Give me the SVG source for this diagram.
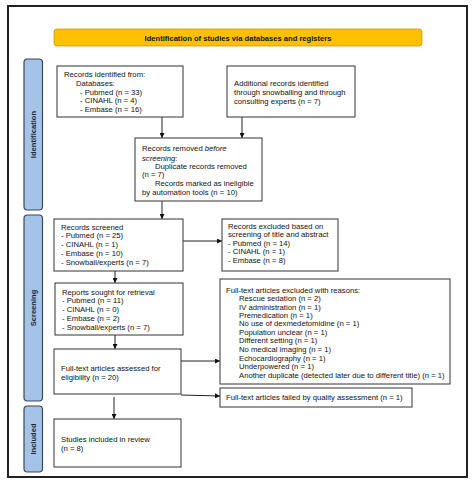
<svg xmlns="http://www.w3.org/2000/svg" width="474" height="484" viewBox="0 0 474 484">
<style>
text{font-family:"Liberation Sans",Arial,sans-serif;font-size:7.7px;fill:#111}
.box{fill:#fff;stroke:#333;stroke-width:1}
.side{fill:#a5c3e7;stroke:#3b4656;stroke-width:1.2}
.sl{font-weight:bold;font-size:7.6px;fill:#1f2a3c;text-anchor:middle}
.con{stroke:#222;stroke-width:1;fill:none;marker-end:url(#ah)}
</style>
<defs>
<marker id="ah" viewBox="0 0 10 10" refX="10" refY="5" markerWidth="5" markerHeight="5" orient="auto" markerUnits="userSpaceOnUse">
<path d="M0,0L10,5L0,10z" fill="#111"/>
</marker>
</defs>
<rect x="0" y="0" width="474" height="484" fill="#fff"/>
<rect x="8" y="6" width="459" height="471" fill="#fff" stroke="#222" stroke-width="2"/>
<g id="banner">
<rect x="54" y="29" width="368" height="17" rx="3" fill="#ffc000" stroke="#c99a00" stroke-width="0.8"/>
<text x="238" y="40.5" text-anchor="middle" style="font-weight:bold;font-size:7.6px">Identification of studies via databases and registers</text>
</g>
<g id="side-identification">
<rect class="side" x="24" y="59" width="18.5" height="151" rx="3.5"/>
<text class="sl" transform="translate(36,134.5) rotate(-90)">Identification</text>
</g>
<g id="side-screening">
<rect class="side" x="24" y="215" width="18.5" height="186" rx="3.5"/>
<text class="sl" transform="translate(36,308) rotate(-90)">Screening</text>
</g>
<g id="side-included">
<rect class="side" x="24" y="406" width="18.5" height="66" rx="3.5"/>
<text class="sl" transform="translate(36,439) rotate(-90)">Included</text>
</g>
<g id="connectors">
<line class="con" x1="162" y1="117" x2="162" y2="138"/>
<line class="con" x1="242" y1="117" x2="242" y2="138"/>
<line class="con" x1="162" y1="201" x2="162" y2="219"/>
<line class="con" x1="183" y1="241" x2="222" y2="241"/>
<line class="con" x1="115" y1="271" x2="115" y2="283"/>
<line class="con" x1="115" y1="335" x2="115" y2="349"/>
<line class="con" x1="181" y1="361" x2="220" y2="361"/>
<line class="con" x1="181" y1="395" x2="220" y2="396"/>
<line class="con" x1="114" y1="397" x2="114" y2="419"/>
</g>
<g id="records-identified">
<rect class="box" x="57" y="66" width="126" height="51"/>
<text x="64" y="77">Records identified from:</text>
<text x="76" y="86">Databases:</text>
<text x="80" y="94.5">- Pubmed (n = 33)</text>
<text x="80" y="103">- CINAHL (n = 4)</text>
<text x="80" y="111.5">- Embase (n = 16)</text>
</g>
<g id="additional-records">
<rect class="box" x="227" y="66" width="128" height="51"/>
<text x="234" y="86">Additional records identified</text>
<text x="234" y="95">through snowballing and through</text>
<text x="234" y="103.5">consulting experts (n = 7)</text>
</g>
<g id="records-removed">
<rect class="box" x="135" y="138" width="127" height="63"/>
<text x="142" y="151">Records removed <tspan font-style="italic">before</tspan></text>
<text x="142" y="160.5" font-style="italic">screening<tspan font-style="normal">:</tspan></text>
<text x="155" y="169">Duplicate records removed</text>
<text x="142" y="177">(n = 7)</text>
<text x="155" y="185.5">Records marked as ineligible</text>
<text x="142" y="194.5">by automation tools (n = 10)</text>
</g>
<g id="records-screened">
<rect class="box" x="54" y="219" width="129" height="52"/>
<text x="61" y="229.5">Records screened</text>
<text x="61" y="238">- Pubmed (n = 25)</text>
<text x="61" y="247">- CINAHL (n = 1)</text>
<text x="61" y="255.5">- Embase (n = 10)</text>
<text x="61" y="264.5">- Snowball/experts (n = 7)</text>
</g>
<g id="records-excluded">
<rect class="box" x="222" y="219" width="116" height="52"/>
<text x="228" y="228.5">Records excluded based on</text>
<text x="228" y="237">screening of title and abstract</text>
<text x="228" y="245.5">- Pubmed (n = 14)</text>
<text x="228" y="254">- CINAHL (n = 1)</text>
<text x="228" y="263">- Embase (n = 8)</text>
</g>
<g id="reports-sought">
<rect class="box" x="55" y="283" width="128" height="52"/>
<text x="62" y="294.5">Reports sought for retrieval</text>
<text x="62" y="303">- Pubmed (n = 11)</text>
<text x="62" y="312">- CINAHL (n = 0)</text>
<text x="62" y="320.5">- Embase (n = 2)</text>
<text x="62" y="329.5">- Snowball/experts (n = 7)</text>
</g>
<g id="fulltext-excluded">
<rect class="box" x="220" y="279" width="230" height="105"/>
<text x="226" y="292.8">Full-text articles excluded with reasons:</text>
<text x="239" y="301.1">Rescue sedation (n = 2)</text>
<text x="239" y="309.5">IV administration (n = 1)</text>
<text x="239" y="317.8">Premedication (n = 1)</text>
<text x="239" y="326.1">No use of dexmedetomidine (n = 1)</text>
<text x="239" y="334.5">Population unclear (n = 1)</text>
<text x="239" y="342.8">Different setting (n = 1)</text>
<text x="239" y="351.5">No medical imaging (n = 1)</text>
<text x="239" y="360.5">Echocardiography (n = 1)</text>
<text x="239" y="369">Underpowered (n = 1)</text>
<text x="239" y="377.5">Another duplicate (detected later due to different title) (n = 1)</text>
</g>
<g id="fulltext-assessed">
<rect class="box" x="54" y="349" width="127" height="45"/>
<text x="61" y="370.5">Full-text articles assessed for</text>
<text x="61" y="380">eligibility (n = 20)</text>
</g>
<g id="fulltext-failed">
<rect class="box" x="220" y="388" width="192" height="19"/>
<text x="226" y="400">Full-text articles failed by quality assessment (n = 1)</text>
</g>
<g id="studies-included">
<rect class="box" x="54" y="419" width="127" height="48"/>
<text x="61" y="442">Studies included in review</text>
<text x="61" y="451">(n = 8)</text>
</g>
</svg>
